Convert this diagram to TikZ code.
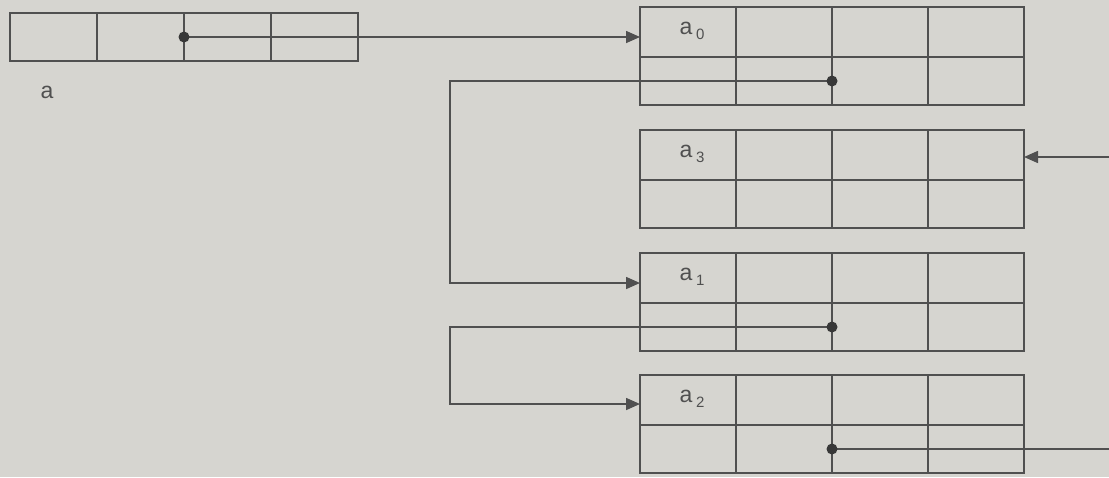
\documentclass[tikz,border=0pt]{standalone}
\usepackage{fontspec}
\setmainfont{Liberation Sans}
\usetikzlibrary{arrows.meta,calc}

\definecolor{paper}{RGB}{214,213,208}
\definecolor{ink}{RGB}{80,80,80}

\tikzset{
  rec/.style={draw=ink, line width=1.6pt, rectangle, inner sep=0pt, outer sep=0pt,
              minimum width=384pt, minimum height=98pt},
  arrbox/.style={draw=ink, line width=1.6pt, rectangle, inner sep=0pt, outer sep=0pt,
              minimum width=348pt, minimum height=48pt},
  cellline/.style={draw=ink, line width=1.6pt},
  link/.style={draw=ink, line width=1.6pt, -{Triangle[length=14pt,width=12pt]}},
  wire/.style={draw=ink, line width=1.6pt},
  lab/.style={inner sep=0pt, text=ink, font=\fontsize{23}{23}\selectfont},
}

% one record: 4 columns, 2 rows, pointer field in the lower row
\newcommand\mkrecord[4]{%
  \node[rec, anchor=north west] (#1) at (#2,#3) {};
  \foreach \i in {1,2,3}
    \draw[cellline] ($(#1.north west)!\i/4!(#1.north east)$) -- ($(#1.south west)!\i/4!(#1.south east)$);
  \draw[cellline] ([yshift=-50pt]#1.north west) -- ([yshift=-50pt]#1.north east);
  \node[lab] (#1-lab) at ([xshift=52pt,yshift=-24pt]#1.north west)
    {a\,\raisebox{-5pt}{\fontsize{15}{15}\selectfont #4}};
  \coordinate (#1-dot) at ([xshift=192pt,yshift=24pt]#1.south west);
}

\begin{document}
\begin{tikzpicture}[x=1pt,y=-1pt]
  \useasboundingbox (0,0) rectangle (1109,477);
  \fill[paper] (0,0) rectangle (1109,477);

  % the array a
  \node[arrbox, anchor=north west] (arr) at (10,13) {};
  \foreach \i in {1,2,3}
    \draw[cellline] ($(arr.north west)!\i/4!(arr.north east)$) -- ($(arr.south west)!\i/4!(arr.south east)$);
  \node[lab] (arr-lab) at (47,92) {a};
  \coordinate (arr-dot) at ($(arr.west)!0.5!(arr.east)$);

  % the records
  \mkrecord{r0}{640}{7}{0}
  \mkrecord{r3}{640}{130}{3}
  \mkrecord{r1}{640}{253}{1}
  \mkrecord{r2}{640}{375}{2}

  % connector ends and bends
  \coordinate (loopx) at (450,0);
  \coordinate (r1-in) at ([yshift=-30pt]r1.north west);
  \coordinate (r2-in) at ([yshift=-29pt]r2.north west);
  \coordinate (feed) at (1109,157);
  \coordinate (exit) at (1109,0);

  % pointers
  \draw[link] (arr-dot) -- (arr-dot -| r0.west);
  \draw[link] (r0-dot) -- (r0-dot -| loopx) |- (r1-in);
  \draw[link] (r1-dot) -- (r1-dot -| loopx) |- (r2-in);
  \draw[wire] (r2-dot) -- (r2-dot -| exit);
  \draw[link] (feed) -- (feed -| r3.east);

  % pointer origins
  \foreach \d in {arr-dot, r0-dot, r1-dot, r2-dot}
    \fill[ink!70!black] (\d) circle (5.5pt);
\end{tikzpicture}
\end{document}
